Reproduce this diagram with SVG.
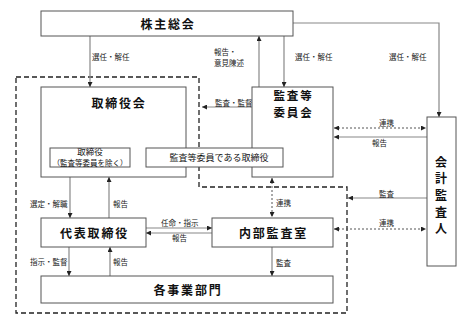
<svg xmlns="http://www.w3.org/2000/svg" width="469" height="324" viewBox="0 0 469 324">
<defs>
<marker id="ah" viewBox="0 0 6 6" refX="6" refY="3" markerWidth="5" markerHeight="5" markerUnits="userSpaceOnUse" orient="auto-start-reverse"><path d="M0,0 L6,3 L0,6 Z" fill="#222"/></marker>
</defs>
<style>
.box{fill:#fff;stroke:#555;stroke-width:1}
.t{font-family:"Noto Sans CJK JP","Noto Sans CJK SC",sans-serif;fill:#111;font-weight:bold;font-size:12px;letter-spacing:1.8px;text-anchor:middle}
.s{font-family:"Noto Sans CJK JP","Noto Sans CJK SC",sans-serif;fill:#222;font-size:7.5px}
.m{font-family:"Noto Sans CJK JP","Noto Sans CJK SC",sans-serif;fill:#111;text-anchor:middle}
.ln{fill:none;stroke:#888;stroke-width:1.2}
.dt{fill:none;stroke:#555;stroke-width:1;stroke-dasharray:2,2}
.dash{fill:none;stroke:#222;stroke-width:1.3;stroke-dasharray:5,3}
</style>
<rect width="469" height="324" fill="#fff"/>
<g id="boundary">
<path class="dash" d="M16,77 H199 V187 H347 V313 H16 Z"/>
</g>
<g id="connectors">
<path class="ln" d="M90,36 V87" marker-end="url(#ah)"/>
<path class="ln" d="M259,87 V36" marker-end="url(#ah)"/>
<path class="ln" d="M284,36 V87" marker-end="url(#ah)"/>
<path class="ln" d="M293,23 H439 V117" marker-end="url(#ah)"/>
<path class="ln" d="M252,107 H202" marker-end="url(#ah)"/>
<path class="dt" d="M334,128 H426" marker-start="url(#ah)" marker-end="url(#ah)"/>
<path class="ln" d="M427,137 H334" marker-end="url(#ah)"/>
<path class="ln" d="M427,198 H348" marker-end="url(#ah)"/>
<path class="dt" d="M334,229 H426" marker-start="url(#ah)" marker-end="url(#ah)"/>
<path class="dt" d="M272,178 V217" marker-start="url(#ah)" marker-end="url(#ah)"/>
<path class="ln" d="M70,177 V218" marker-end="url(#ah)"/>
<path class="ln" d="M109,218 V177" marker-end="url(#ah)"/>
<path class="ln" d="M146,228 H212" marker-end="url(#ah)"/>
<path class="ln" d="M212,233 H146" marker-end="url(#ah)"/>
<path class="ln" d="M69,247 V276" marker-end="url(#ah)"/>
<path class="ln" d="M110,276 V247" marker-end="url(#ah)"/>
<path class="ln" d="M272,247 V276" marker-end="url(#ah)"/>
<text class="s" x="92" y="60">選任・解任</text>
<text class="s" x="214" y="54.5">報告・</text>
<text class="s" x="214" y="65.5">意見陳述</text>
<text class="s" x="295" y="60">選任・解任</text>
<text class="s" x="389" y="60">選任・解任</text>
<text class="s" x="215" y="105.5">監査・監督</text>
<text class="s" x="379" y="126">連携</text>
<text class="s" x="372" y="146">報告</text>
<text class="s" x="379" y="196.5">監査</text>
<text class="s" x="379" y="226">連携</text>
<text class="s" x="276" y="206">連携</text>
<text class="s" x="30" y="207">選定・解職</text>
<text class="s" x="113" y="207">報告</text>
<text class="s" x="161" y="225.5">任命・指示</text>
<text class="s" x="172" y="241">報告</text>
<text class="s" x="30" y="265">指示・監督</text>
<text class="s" x="113" y="265">報告</text>
<text class="s" x="276" y="266">監査</text>
</g>
<g id="shareholders">
<rect class="box" x="41" y="11" width="252" height="25"/>
<text class="t" x="168" y="28.5">株主総会</text>
</g>
<g id="board">
<rect class="box" x="41" y="87" width="145" height="90"/>
<text class="t" x="119" y="107.5">取締役会</text>
</g>
<g id="audit-committee">
<rect class="box" x="252" y="87" width="81" height="90"/>
<text class="t" x="293.5" y="99.5" style="font-size:11.5px">監査等</text>
<text class="t" x="293.5" y="116.5" style="font-size:11.5px">委員会</text>
</g>
<g id="directors">
<rect class="box" x="50" y="148" width="80" height="19"/>
<text class="m" x="90" y="155" font-size="8.5">取締役</text>
<text class="m" x="90" y="166.2" font-size="7.5">（監査等委員を除く）</text>
</g>
<g id="audit-directors">
<rect class="box" x="146" y="148" width="137" height="19"/>
<text class="m" x="219" y="161" font-size="9">監査等委員である取締役</text>
</g>
<g id="accounting-auditor">
<rect class="box" x="427" y="117" width="29" height="149"/>
<text class="t" x="442" y="166.5">会</text>
<text class="t" x="442" y="183">計</text>
<text class="t" x="442" y="200">監</text>
<text class="t" x="442" y="216.5">査</text>
<text class="t" x="442" y="232.5">人</text>
</g>
<g id="representative">
<rect class="box" x="41" y="218" width="105" height="29"/>
<text class="t" x="94.5" y="237.5">代表取締役</text>
</g>
<g id="internal-audit">
<rect class="box" x="212" y="218" width="121" height="29"/>
<text class="t" x="273.5" y="237.5">内部監査室</text>
</g>
<g id="business-units">
<rect class="box" x="41" y="276" width="292" height="27"/>
<text class="t" x="188" y="294.5">各事業部門</text>
</g>
</svg>
